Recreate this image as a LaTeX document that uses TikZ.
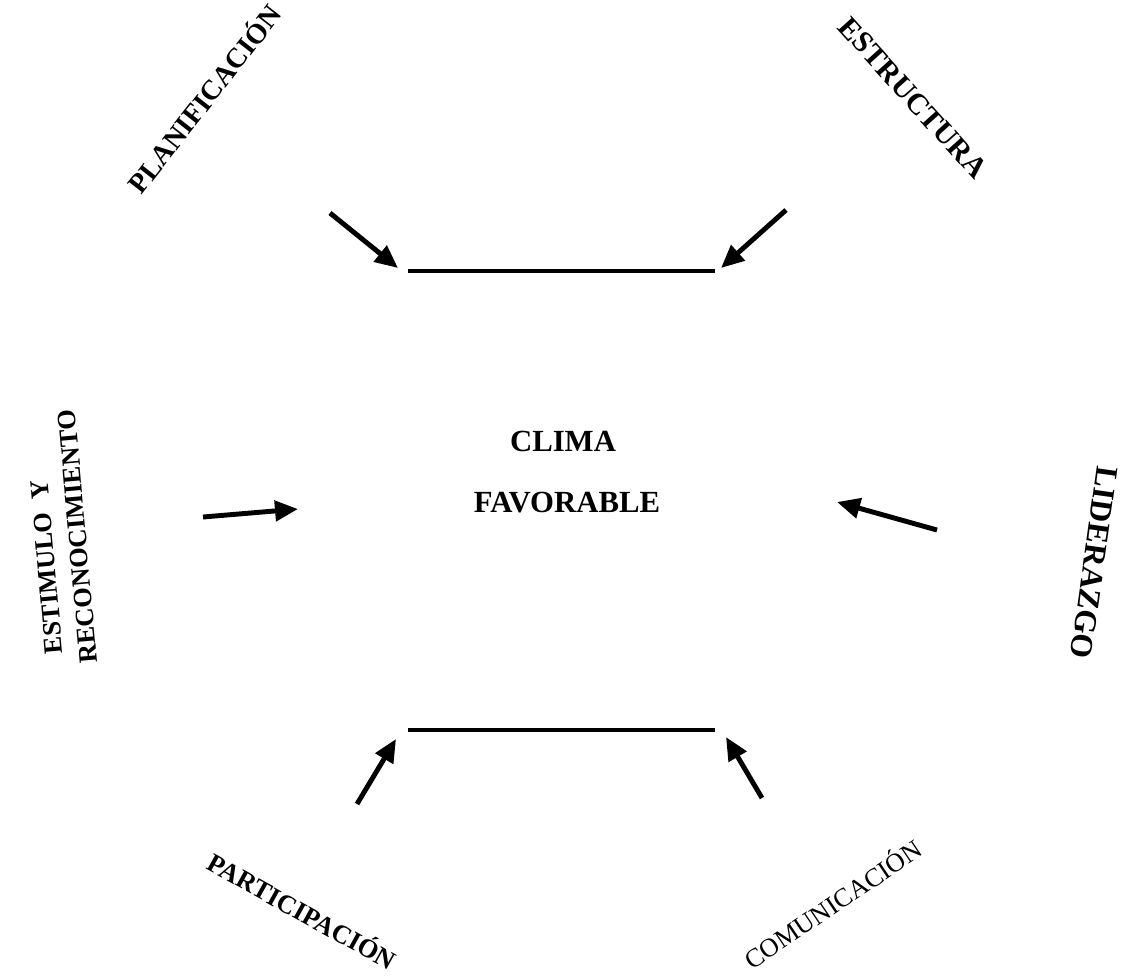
\documentclass[tikz,border=0pt]{standalone}
\usepackage{fontspec}
\setmainfont{Liberation Serif}
\usetikzlibrary{arrows.meta}

\begin{document}
\begin{tikzpicture}[x=0.02cm, y=-0.02cm,
      rotulo/.style={font=\bfseries\fontsize{16}{17}\selectfont, inner sep=0pt, align=center},
      flecha/.style={line width=2.8pt, -{Triangle[length=4.6mm,width=4mm]}},
      barra/.style={line width=2.2pt}]
    \useasboundingbox (0,0) rectangle (1128,978);

    \node[rotulo, font=\bfseries\fontsize{17.5}{18}\selectfont] (clima) at (563,441) {CLIMA};
    \node[rotulo, font=\bfseries\fontsize{17.5}{18}\selectfont] (favorable) at (567,503) {FAVORABLE};

    \node[rotulo, rotate=52] (planificacion) at (203,98) {PLANIFICACIÓN};
    \node[rotulo, rotate=-48, font=\bfseries\fontsize{17}{18}\selectfont] (estructura) at (913,98) {ESTRUCTURA};
    \node[rotulo, rotate=95, align=left, font=\bfseries\fontsize{15}{19}\selectfont] (estimulo) at (61,538) {\hspace*{7pt}ESTIMULO\ \ Y\\RECONOCIMIENTO};
    \node[rotulo, rotate=-98, font=\bfseries\fontsize{18}{19}\selectfont] (liderazgo) at (1094,563) {LIDERAZGO};
    \node[rotulo, rotate=-29, font=\bfseries\fontsize{15}{16}\selectfont] (participacion) at (303,910) {PARTICIPACIÓN};
    \node[rotulo, rotate=34, font=\fontsize{15}{16}\selectfont] (comunicacion) at (832,903) {COMUNICACIÓN};

    \coordinate (supI) at (408,271);
    \coordinate (supD) at (715,271);
    \coordinate (infI) at (408,730);
    \coordinate (infD) at (715,730);
    \draw[barra] (supI) -- (supD);
    \draw[barra] (infI) -- (infD);

    \coordinate (planA) at (330,213);
    \coordinate (planB) at (398,268);
    \coordinate (estrA) at (786,210);
    \coordinate (estrB) at (721,268);
    \coordinate (estiA) at (203,517);
    \coordinate (estiB) at (298,509);
    \coordinate (lidA) at (937,530);
    \coordinate (lidB) at (837,502);
    \coordinate (partA) at (357,804);
    \coordinate (partB) at (396,739);
    \coordinate (comuA) at (762,798);
    \coordinate (comuB) at (726,737);

    \draw[flecha] (planA) -- (planB);
    \draw[flecha] (estrA) -- (estrB);
    \draw[flecha] (estiA) -- (estiB);
    \draw[flecha] (lidA) -- (lidB);
    \draw[flecha] (partA) -- (partB);
    \draw[flecha] (comuA) -- (comuB);
  \end{tikzpicture}
\end{document}
